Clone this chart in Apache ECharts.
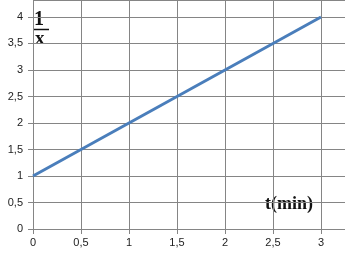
<!DOCTYPE html>
<html><head><meta charset="utf-8">
<script src="https://cdn.jsdelivr.net/npm/echarts@6/dist/echarts.min.js"></script>
<style>html,body{margin:0;padding:0;background:#fff}#c{width:345px;height:259px}</style>
</head><body><div id="c"></div>
<script>
const tValues = [0, 3];
const invX = [1, 4];
const xMax = 3.25;
const yMax = 4.32;
const chart = echarts.init(document.getElementById('c'));
const fmt = v => String(v).replace('.', ',');
chart.setOption({
  animation: false,
  grid: {left: 33, top: 0, right: 0, bottom: 30},
  xAxis: {
    type: 'value', min: 0, max: xMax, interval: 0.5,
    axisLine: {show: true, lineStyle: {color: '#858585', width: 1}},
    axisTick: {show: true, length: 5, lineStyle: {color: '#858585'}},
    splitLine: {show: true, lineStyle: {color: '#858585', width: 1}},
    axisLabel: {showMaxLabel: false, color: '#222', fontFamily: 'Liberation Sans', fontSize: 11, margin: 8, formatter: fmt}
  },
  yAxis: {
    type: 'value', min: 0, max: yMax, interval: 0.5,
    axisLine: {show: true, lineStyle: {color: '#858585', width: 1}},
    axisTick: {show: true, length: 5, lineStyle: {color: '#858585'}},
    splitLine: {show: true, lineStyle: {color: '#858585', width: 1}},
    axisLabel: {showMaxLabel: false, color: '#222', fontFamily: 'Liberation Sans', fontSize: 11, margin: 10, formatter: fmt}
  },
  series: [{
    type: 'line', data: tValues.map((t, i) => [t, invX[i]]),
    showSymbol: false, lineStyle: {color: '#4a7ebb', width: 3}
  }],
  graphic: [
    {type: 'text', left: 34, top: 10, style: {text: '1', font: 'bold 20px "Liberation Serif"', fill: '#111'}},
    {type: 'line', shape: {x1: 33, y1: 29.5, x2: 49, y2: 29.5}, style: {stroke: '#111', lineWidth: 1.5}},
    {type: 'text', left: 35, top: 30, style: {text: 'x', font: 'bold 19px "Liberation Serif"', fill: '#111'}},
    {type: 'text', left: 265, top: 195, style: {text: 't(min)', font: 'bold 18px "Liberation Serif"', fill: '#111'}}
  ]
});
</script></body></html>
